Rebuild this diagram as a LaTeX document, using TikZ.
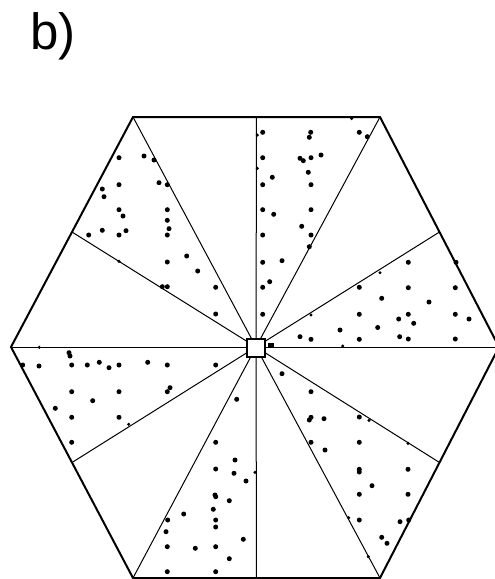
\documentclass[tikz,border=0pt]{standalone}
\usepackage{fontspec}
\setmainfont{Liberation Sans}
\usetikzlibrary{calc}
\begin{document}
\begin{tikzpicture}[x=1pt,y=-1pt,
  outer/.style={line width=2pt,line join=miter},
  spoke/.style={line width=1pt},
  centerbox/.style={draw,line width=2pt,fill=white,minimum size=18pt,inner sep=0pt},
  dot/.style={fill=black},
  label/.style={font=\fontsize{51}{54}\selectfont,anchor=base west,inner sep=0pt}]
\useasboundingbox (0,0) rectangle (495,579);
% vertices
\coordinate (A) at (133,117);
\coordinate (B) at (380,117);
\coordinate (C) at (499,347);
\coordinate (D) at (380,578);
\coordinate (E) at (133,578);
\coordinate (F) at (11,347);
\coordinate (O) at (256,347);
% midpoints
\coordinate (mAB) at ($(A)!0.5!(B)$);
\coordinate (mBC) at ($(B)!0.5!(C)$);
\coordinate (mCD) at ($(C)!0.5!(D)$);
\coordinate (mDE) at ($(D)!0.5!(E)$);
\coordinate (mEF) at ($(E)!0.5!(F)$);
\coordinate (mFA) at ($(F)!0.5!(A)$);
% spokes
\foreach \p in {A,B,C,D,E,F,mAB,mBC,mCD,mDE,mEF,mFA}
  \draw[spoke] (O) -- (\p);
% outline
\draw[outer] (A) -- (B) -- (C) -- (D) -- (E) -- (F) -- cycle;
% dots
\foreach \x/\y in {
 119/157.7,144/156,154/160,102.3/189,104/196.7,119/184.7,159/182.7,167.3/184.7,
 119/209.7,123/216,167.3/209.7,167.3/220.3,169/228.7,167.3/235,88.7/235,102.3/230.3,
 119/235,126/230.7,186.7/256,167.3/262,197.7/271,162.3/286.7,167.3/286.7,215.7/287.3,215.7/314,
 262.7/132.3,310.7/132.3,309.3/137.3,359.3/132.3,367.3/136.7,262.7/157.7,300/158.3,303.3/160.7,
 311/157.7,321/155,272.3/177.3,308.3/172.3,262.7/184.7,311/184.7,262.7/209.7,273.7/214.3,
 311/209.7,301.7/226.3,262.7/235,311/235,309.3/246.7,262.7/262.3,282/260.7,262.7/287.3,
 269.7/281.7,262.7/314.3,
 408.3/262.3,456/262.3,408.3/287.7,455.3/287.7,381.7/298.3,429/302,408.3/314.3,398.7/319,
 413.7/323.3,455.3/314.3,469/319,377.7/327.5,359.3/287.3,359.3/314.3,340/330,300/336.7,
 311/339.3,359.3/339.3,399.7/336.7,408.3/339,455.3/339,
 69/352.7,70/356,22.7/365,39/366,71.7/365,87.3/365,99.3/362.3,109/367.7,119/365,147.7/362.3,
 167.3/365,215.7/365,71.7/391.7,119/391.7,92.7/400.7,167.3/391.7,170/387.7,55.3/408.3,
 71.7/417.3,119/417.3,71.7/442.3,
 236.7/399.3,215.7/442.3,235/460,215.7/469,234/473.3,246/481,215/495,215.7/496.7,229.3/500.7,
 183.7/514,167.7/520,213.3/509.3,215.7/520,215.7/527,166/531.7,167.3/546.7,195.3/548.3,
 215.7/546.7,243.3/539.3,229.3/558.7,167.3/571.7,215.7/571.7,
 282/373.7,311/391.7,309.3/420,311/417.3,324/418.7,359.3/417,311/442.3,325/450,359.3/442.3,
 359.3/469.3,359.3/472,408/469.3,372/485.7,359.3/494.3,408/494.3,359.3/520,400/521.7,
 408.7/520,381.7/537.3,387/543.3}
  \fill[dot] (\x,\y) circle (2.5);
% small dots (partly on lines)
\foreach \x/\y in {119/261.3,257.3/135,257.3/168.3,351.7/118.5,311/315,380/272.7,342.7/346,
 39.3/347.3,128.7/424.3,255/472.3,369/420.3,408/443.3,348.7/517.7,368.3/556.7}
  \fill[dot] (\x,\y) circle (1.7);
% small blob right of the centre box
\fill[dot] (268,343) rectangle (274,347.5);
% centre box
\node[centerbox] (box) at (256,348) {};
% label
\node[label] (lab) at (30,49) {b)};
\end{tikzpicture}
\end{document}
